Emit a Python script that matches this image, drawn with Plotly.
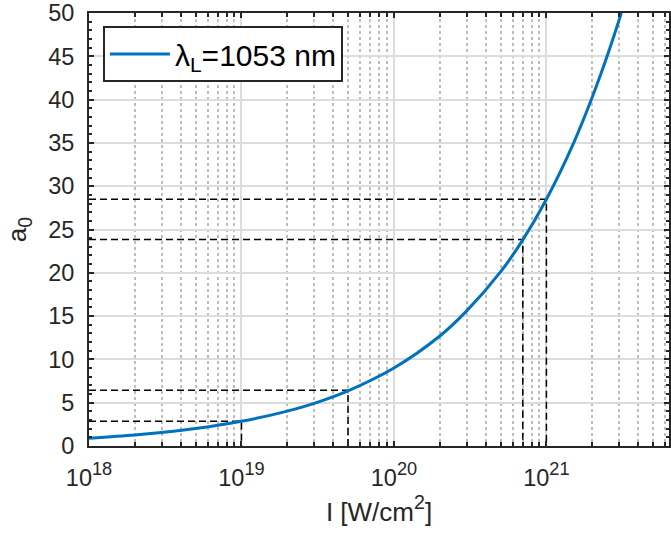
import plotly.graph_objects as go

# ---- data ----
intensity = [1e18, 2e18, 3e18, 5e18, 1e19, 2e19, 3e19, 5e19, 1e20, 2e20, 3e20,
             5e20, 7e20, 1e21, 1.5e21, 2e21, 2.5e21, 3.1e21]
a0_values = [0.9, 1.27, 1.56, 2.01, 2.85, 4.03, 4.93, 6.37, 9.0, 12.7, 15.6,
             20.1, 23.8, 28.5, 34.9, 40.3, 45.0, 50.0]

ref_intensity = [1e19, 5e19, 7e20, 1e21]
ref_a0 = [2.87, 6.45, 23.85, 28.5]

x_tick_vals = [1e18, 1e19, 1e20, 1e21]
x_tick_exps = ["18", "19", "20", "21"]
y_tick_vals = [0, 5, 10, 15, 20, 25, 30, 35, 40, 45, 50]

legend_name = 'λ<span style="font-size:30px"><sub>L</sub></span>=1053 nm'

FONT = "Liberation Sans, Arial, Helvetica, sans-serif"
AX = "#262626"

fig = go.Figure()

# dashed guide lines (horizontal from left axis to point, vertical down to 0)
gx, gy = [], []
x_left = x_tick_vals[0]
for xi, yi in zip(ref_intensity, ref_a0):
    gx += [x_left, xi, xi, None]
    gy += [yi, yi, 0, None]
fig.add_trace(go.Scatter(x=gx, y=gy, mode="lines", showlegend=False,
                         line=dict(color="black", width=1.5, dash="7px,4px"),
                         hoverinfo="skip"))

fig.add_trace(go.Scatter(x=intensity, y=a0_values, mode="lines", name=legend_name,
                         line=dict(color="#0072BD", width=3, shape="spline")))

fig.update_layout(
    width=671, height=543,
    margin=dict(l=89, r=0, t=13, b=97),
    paper_bgcolor="white", plot_bgcolor="white",
    font=dict(family=FONT, color=AX, size=23.5),
    legend=dict(x=0.024, y=0.97, xanchor="left", yanchor="top",
                bgcolor="white", bordercolor=AX, borderwidth=2,
                font=dict(size=30, color="black", family=FONT),
                itemwidth=60, tracegroupgap=0),
    xaxis=dict(
        type="log", range=[18, 21.804],
        tickvals=x_tick_vals,
        ticktext=['10<span style="font-size:26px"><sup>' + e + '</sup></span>'
                  for e in x_tick_exps],
        ticks="inside", ticklen=5, tickwidth=1.5, tickcolor=AX,
        showline=True, linecolor=AX, linewidth=2, mirror="ticks",
        showgrid=True, gridcolor="#dcdcdc", gridwidth=1.5,
        zeroline=False,
        tickfont=dict(size=23.5, color=AX),
        ticklabelstandoff=10,
        minor=dict(dtick="D1", ticks="inside", ticklen=4, tickcolor=AX, tickwidth=1.5,
                   showgrid=True, gridcolor="#bdbdbd", gridwidth=1.5, griddash="dot"),
        title=dict(text='I [W/cm<span style="font-size:28px"><sup>2</sup></span>]',
                   font=dict(size=26, color=AX), standoff=10),
    ),
    yaxis=dict(
        range=[0, 50], tickvals=y_tick_vals,
        ticks="inside", ticklen=5, tickwidth=1.5, tickcolor=AX,
        showline=True, linecolor=AX, linewidth=2, mirror="ticks",
        showgrid=True, gridcolor="#dcdcdc", gridwidth=1.5,
        zeroline=False,
        tickfont=dict(size=23.5, color=AX),
        ticklabelstandoff=8,
        minor=dict(dtick=1, ticks="inside", ticklen=3, tickcolor=AX, tickwidth=1.5,
                   showgrid=False),
        title=dict(text='a<span style="font-size:28px"><sub>0</sub></span>',
                   font=dict(size=26, color=AX), standoff=14),
    ),
)

fig.write_html("out.html")
